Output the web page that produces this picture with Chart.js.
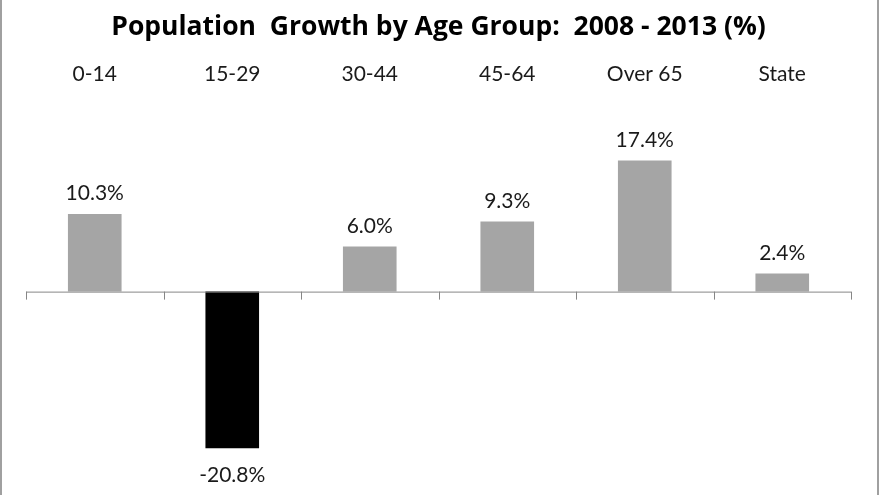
<!DOCTYPE html>
<html>
<head>
<meta charset="utf-8">
<script src="https://cdn.jsdelivr.net/npm/chart.js@4"></script>
<style>
  body { margin: 0; background: #fff; }
  #wrap {
    width: 879px; height: 495px; box-sizing: border-box;
    border-left: 2px solid #a0a0a0; border-right: 2px solid #a0a0a0;
  }
</style>
</head>
<body>
<div id="wrap"><canvas id="pop-chart"></canvas></div>
<script>
const ageGroups = ["0-14", "15-29", "30-44", "45-64", "Over 65", "State"];
const growth = [10.3, -20.8, 6.0, 9.3, 17.4, 2.4];
const barColors = ["#a5a5a5", "#000000", "#a5a5a5", "#a5a5a5", "#a5a5a5", "#a5a5a5"];

const FONT = "Lato, 'Open Sans', sans-serif";

// zero axis line with tick marks between categories
const zeroAxis = {
  id: 'zeroAxis',
  afterDatasetsDraw(chart) {
    const ctx = chart.ctx;
    const y0 = chart.scales.y.getPixelForValue(0);
    ctx.save();
    ctx.strokeStyle = '#868686';
    ctx.lineWidth = 1;
    ctx.beginPath();
    ctx.moveTo(chart.chartArea.left, y0 + 0.5);
    ctx.lineTo(chart.chartArea.right, y0 + 0.5);
    const step = (chart.chartArea.right - chart.chartArea.left) / ageGroups.length;
    for (let i = 0; i <= ageGroups.length; i++) {
      const tx = Math.round(chart.chartArea.left + i * step) + 0.5;
      ctx.moveTo(tx, y0);
      ctx.lineTo(tx, y0 + 8);
    }
    ctx.stroke();
    ctx.restore();
  }
};

// value labels above / below bars
const valueLabels = {
  id: 'valueLabels',
  afterDatasetsDraw(chart) {
    const ctx = chart.ctx;
    const meta = chart.getDatasetMeta(0);
    ctx.save();
    ctx.font = "21px " + FONT;
    ctx.fillStyle = '#1a1a1a';
    ctx.textAlign = 'center';
    meta.data.forEach((bar, i) => {
      const v = growth[i];
      if (v >= 0) {
        ctx.textBaseline = 'bottom';
        ctx.fillText(v.toFixed(1) + '%', bar.x, bar.y - 10);
      } else {
        ctx.textBaseline = 'top';
        ctx.fillText(v.toFixed(1) + '%', bar.x, bar.y + 16);
      }
    });
    ctx.restore();
  }
};

new Chart(document.getElementById('pop-chart'), {
  type: 'bar',
  data: {
    labels: ageGroups,
    datasets: [{
      data: growth,
      backgroundColor: barColors,
      borderWidth: 0,
      categoryPercentage: 0.39,
      barPercentage: 1.0
    }]
  },
  options: {
    responsive: true,
    maintainAspectRatio: false,
    animation: false,
    layout: { padding: { left: 24, right: 26, top: 6, bottom: 6 } },
    scales: {
      x: {
        position: 'top',
        grid: { display: false, drawTicks: false },
        border: { display: false },
        ticks: { color: '#1a1a1a', font: { family: FONT, size: 21 }, padding: 14 }
      },
      y: {
        display: false,
        min: -26.2,
        max: 25.3
      }
    },
    plugins: {
      legend: { display: false },
      tooltip: { enabled: false },
      title: {
        display: true,
        text: 'Population  Growth by Age Group:  2008 - 2013 (%)',
        color: '#000',
        font: { family: "'Open Sans', sans-serif", size: 26.5, weight: 'bold' },
        padding: { top: 6, bottom: 4 }
      }
    }
  },
  plugins: [zeroAxis, valueLabels]
});
</script>
</body>
</html>
